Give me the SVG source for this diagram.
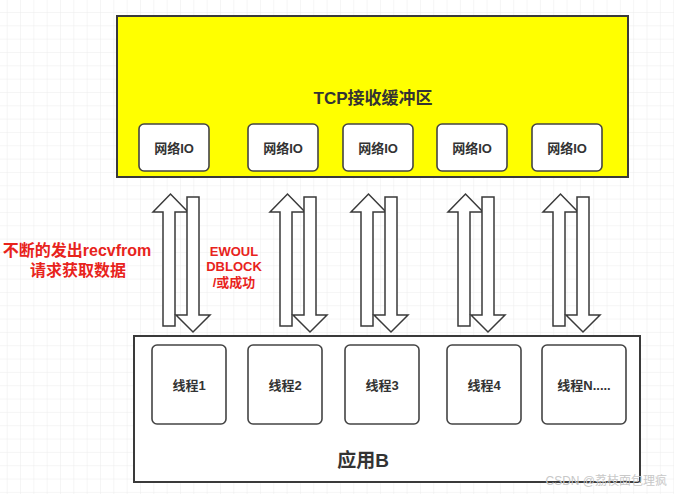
<svg xmlns="http://www.w3.org/2000/svg" width="674" height="494" viewBox="0 0 674 494">
<defs>
<pattern id="grid" patternUnits="userSpaceOnUse" x="6.7" y="12" width="13.33" height="13.33">
<path d="M0 0H13.33M0 0V13.33" fill="none" stroke="#ececec" stroke-width="1"/>
</pattern>
<g id="pair">
<path d="M0 326V212H-10L7.5 194L25 212H12V326Z"/>
<path d="M24 197H36V315H47L30 332L13 315H24Z"/>
</g>
</defs>
<style>
.box{fill:#fff;stroke:#444;stroke-width:1.6}
.big{stroke:#3a3a3a;stroke-width:2}
.t{font-family:"Liberation Sans","Noto Sans CJK SC",sans-serif;font-weight:bold;fill:#333;text-anchor:middle}
.r{font-family:"Liberation Sans","Noto Sans CJK SC",sans-serif;font-weight:bold;fill:#e8231c;text-anchor:middle}
.wm{font-family:"Liberation Sans","Noto Sans CJK SC",sans-serif;font-size:12px;fill:#c8c8c8;text-anchor:end}
.arrows use{fill:#fff;stroke:#3a3a3a;stroke-width:1.5}
</style>
<rect width="674" height="494" fill="#fff"/>
<rect width="674" height="494" fill="url(#grid)"/>
<g id="tcp-buffer">
<rect class="big" x="117" y="16" width="511" height="161" fill="#ffff00"/>
<text class="t" x="373" y="104" font-size="17">TCP接收缓冲区</text>
</g>
<g id="io1"><rect class="box" x="139" y="124" width="70" height="47" rx="5"/><text class="t" x="174" y="153" font-size="13">网络IO</text></g>
<g id="io2"><rect class="box" x="248" y="124" width="70" height="47" rx="5"/><text class="t" x="283" y="153" font-size="13">网络IO</text></g>
<g id="io3"><rect class="box" x="343" y="124" width="70" height="47" rx="5"/><text class="t" x="378" y="153" font-size="13">网络IO</text></g>
<g id="io4"><rect class="box" x="437" y="124" width="70" height="47" rx="5"/><text class="t" x="472" y="153" font-size="13">网络IO</text></g>
<g id="io5"><rect class="box" x="532" y="124" width="70" height="47" rx="5"/><text class="t" x="567" y="153" font-size="13">网络IO</text></g>
<g id="app-b">
<rect class="big" x="134" y="336" width="506" height="146" fill="#fff"/>
<text class="t" x="363" y="467" font-size="19">应用B</text>
</g>
<g id="thread1"><rect class="box" x="152" y="345" width="74" height="79" rx="5"/><text class="t" x="189" y="390" font-size="13">线程1</text></g>
<g id="thread2"><rect class="box" x="248" y="345" width="74" height="79" rx="5"/><text class="t" x="285" y="390" font-size="13">线程2</text></g>
<g id="thread3"><rect class="box" x="345" y="345" width="74" height="79" rx="5"/><text class="t" x="382" y="390" font-size="13">线程3</text></g>
<g id="thread4"><rect class="box" x="447" y="345" width="74" height="79" rx="5"/><text class="t" x="484" y="390" font-size="13">线程4</text></g>
<g id="thread5"><rect class="box" x="542" y="345" width="84" height="79" rx="5"/><text class="t" x="584" y="390" font-size="13">线程N.....</text></g>
<g id="connectors" class="arrows">
<use href="#pair" x="163"/>
<use href="#pair" x="280"/>
<use href="#pair" x="361"/>
<use href="#pair" x="458"/>
<use href="#pair" x="553"/>
</g>
<g id="labels">
<text class="r" x="77" y="256" font-size="16">不断的发出recvfrom</text>
<text class="r" x="78" y="276" font-size="16">请求获取数据</text>
<text class="r" x="234" y="256" font-size="13">EWOUL</text>
<text class="r" x="234" y="271" font-size="13">DBLOCK</text>
<text class="r" x="234" y="287" font-size="13">/或成功</text>
</g>
<text class="wm" x="667" y="485">CSDN @荔枝面包理疯</text>
</svg>
